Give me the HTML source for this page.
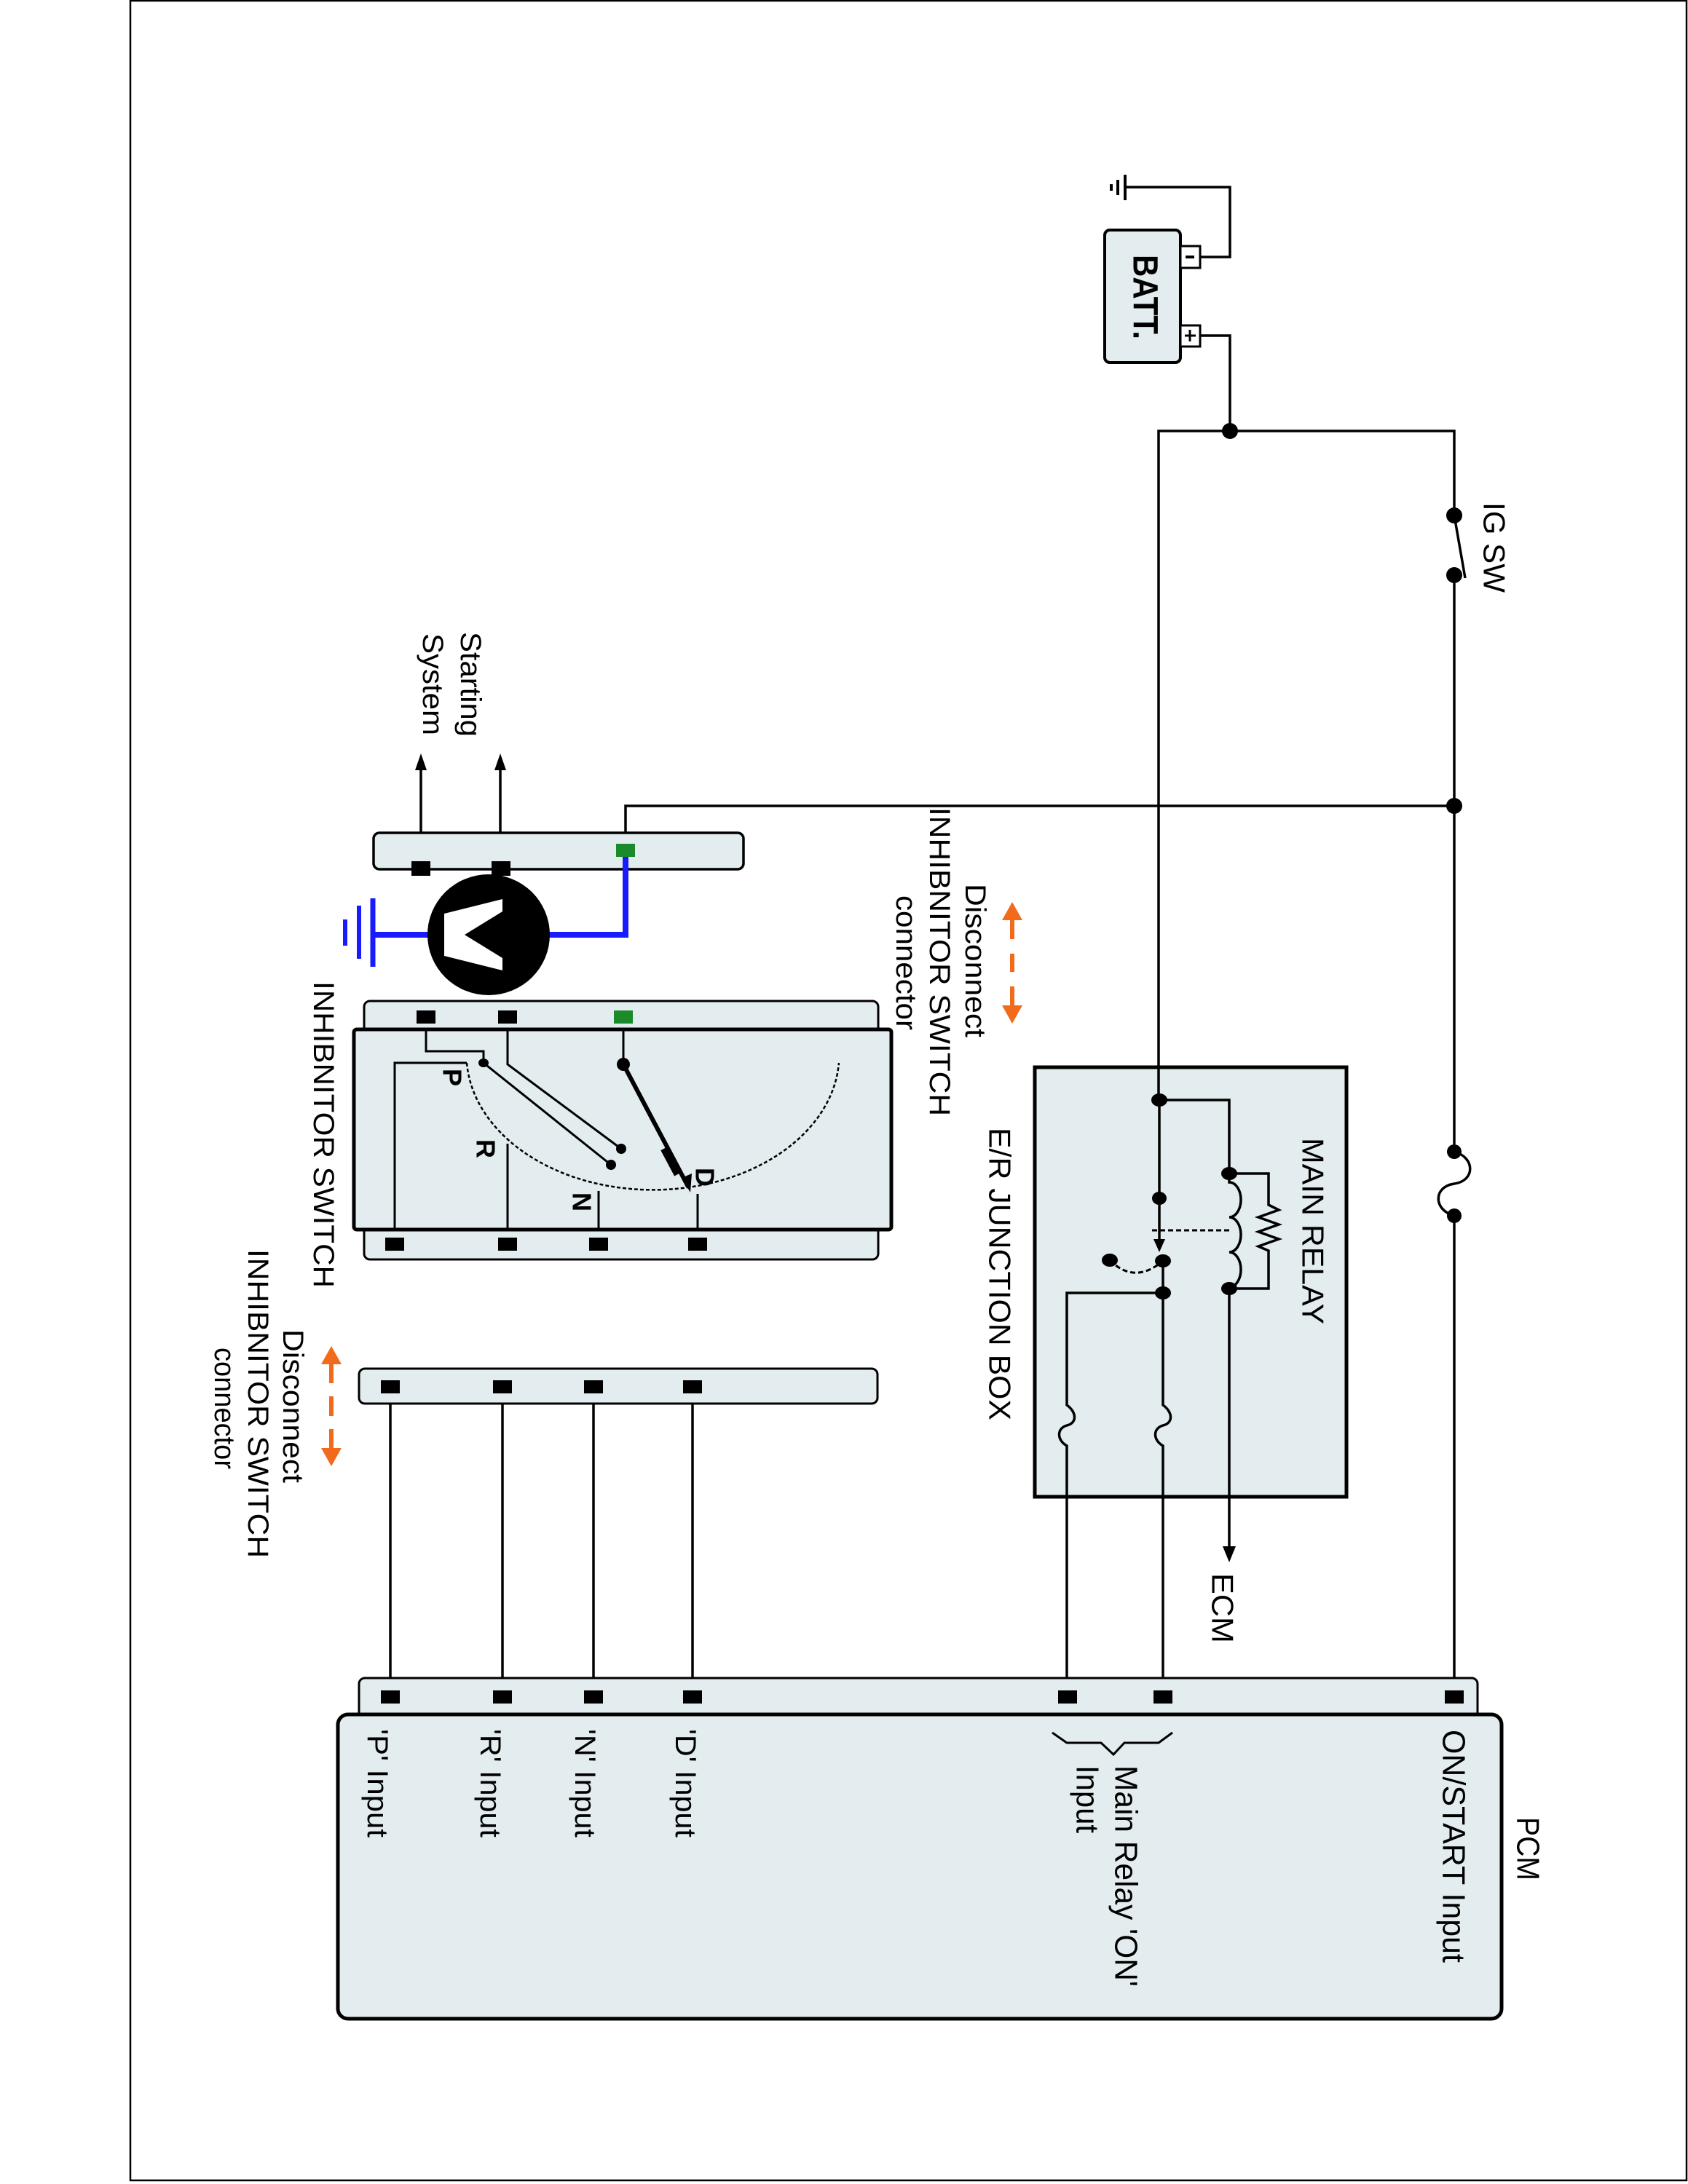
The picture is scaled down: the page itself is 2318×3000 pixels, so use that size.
<!DOCTYPE html>
<html><head><meta charset="utf-8"><style>
html,body{margin:0;padding:0;background:#fff;}
svg{display:block;}
text{font-family:"Liberation Sans",sans-serif;fill:#000;}
</style></head><body>
<svg width="2318" height="3000" viewBox="0 0 2318 3000" xmlns="http://www.w3.org/2000/svg">
<rect x="179" y="1" width="2137" height="2994" fill="none" stroke="#000" stroke-width="2.5"/>

<g fill="none" stroke="#000" stroke-width="3.5" stroke-linejoin="miter">
<!-- battery wiring -->
<path d="M1649,461 H1689 V592"/>
<path d="M1649,353 H1689 V257 H1545"/>
<path d="M1591,1511 V592 H1997 V708"/>
<path d="M1997,708 L2012,794"/>
<path d="M1997,790 V1582"/>
<path d="M1997,1582 C2026,1590 2026,1622 1997,1626 C1968,1630 1968,1662 1997,1670"/>
<path d="M1997,1670 V2331"/>
<path d="M1997,1107 H859 V1159"/>
<!-- relay -->
<path d="M1592,1511 H1688 V1612"/>
<path d="M1688,1612 V1624 a16,24 0 0 1 0,48 a16,24 0 0 1 0,48 a16,24 0 0 1 0,48 V1770"/>
<path d="M1688,1612 H1742 V1655 l14,7 l-28,10 l28,10 l-28,10 l28,10 l-28,10 l14,6 V1770 H1688"/>
<path d="M1688,1770 V2128"/>
<path d="M1592,1511 V1706"/>
<path d="M1597,1732 V1930 C1611,1940 1611,1955 1597,1958 C1583,1962 1583,1978 1597,1986 V2331"/>
<path d="M1597,1776 H1465 V1930 C1479,1940 1479,1955 1465,1958 C1451,1962 1451,1978 1465,1986 V2331"/>
<!-- starting system -->
<path d="M578,1193 V1050"/><path d="M687,1193 V1050"/>
<!-- connector to PCM wires -->
<path d="M536,1905 V2331"/><path d="M690,1905 V2331"/><path d="M815,1905 V2331"/><path d="M951,1905 V2331"/>
</g>
<g stroke="#000" stroke-width="3" fill="none" stroke-dasharray="7,4">
<path d="M1582,1690 H1688"/>
<path d="M1524,1731 Q1558,1765 1597,1732"/>
</g>
<!-- ground -->
<g stroke="#000" stroke-width="4">
<line x1="1545" y1="240" x2="1545" y2="275"/>
<line x1="1535" y1="247" x2="1535" y2="268"/>
<line x1="1526" y1="253" x2="1526" y2="262"/>
</g>
<!-- arrowheads -->
<g fill="#000">
<polygon points="1688,2146 1679,2124 1697,2124"/>
<polygon points="1592,1720 1584,1702 1600,1702"/>
<polygon points="578,1035 570,1058 586,1058"/>
<polygon points="687,1035 679,1058 695,1058"/>
</g>

<!-- battery -->
<rect x="1517" y="316" width="104" height="182" rx="7" fill="#e3ecee" stroke="#000" stroke-width="4"/>
<rect x="1621" y="338" width="27" height="30" fill="#fff" stroke="#000" stroke-width="3"/>
<rect x="1621" y="447" width="27" height="29" fill="#fff" stroke="#000" stroke-width="3"/>
<line x1="1628" y1="353" x2="1640" y2="353" stroke="#000" stroke-width="4"/>
<line x1="1627" y1="461" x2="1642" y2="461" stroke="#000" stroke-width="3"/>
<line x1="1634" y1="453" x2="1634" y2="469" stroke="#000" stroke-width="3"/>
<text transform="translate(1572,350) rotate(90)" font-size="48" font-weight="bold" dominant-baseline="central" textLength="116" lengthAdjust="spacingAndGlyphs">BATT.</text>

<!-- junction box -->
<rect x="1421" y="1466" width="428" height="590" fill="#e3ecee" stroke="#000" stroke-width="5"/>
<path d="M1591,1466 V1511" stroke="#000" stroke-width="3.5"/>
<path d="M1688,1770 V2056" stroke="#000" stroke-width="3.5"/>
<g fill="none" stroke="#000" stroke-width="3.5">
<path d="M1592,1511 H1688 V1612"/>
<path d="M1688,1612 V1624 a16,24 0 0 1 0,48 a16,24 0 0 1 0,48 a16,24 0 0 1 0,48 V1770"/>
<path d="M1688,1612 H1742 V1655 l14,7 l-28,10 l28,10 l-28,10 l28,10 l-28,10 l14,6 V1770 H1688"/>
<path d="M1592,1511 V1706"/>
<path d="M1597,1732 V1930 C1611,1940 1611,1955 1597,1958 C1583,1962 1583,1978 1597,1986 V2056"/>
<path d="M1597,1776 H1465 V1930 C1479,1940 1479,1955 1465,1958 C1451,1962 1451,1978 1465,1986 V2056"/>
</g>
<g stroke="#000" stroke-width="3" fill="none" stroke-dasharray="7,4">
<path d="M1582,1690 H1688"/>
<path d="M1524,1731 Q1558,1765 1597,1732"/>
</g>
<polygon points="1592,1720 1584,1702 1600,1702" fill="#000"/>
<text transform="translate(1803,1563) rotate(90)" font-size="42" dominant-baseline="central" textLength="256" lengthAdjust="spacingAndGlyphs">MAIN RELAY</text>
<text transform="translate(1373,1549) rotate(90)" font-size="42" dominant-baseline="central" textLength="402" lengthAdjust="spacingAndGlyphs">E/R JUNCTION BOX</text>

<!-- dots -->
<g fill="#000">
<circle cx="1689" cy="592" r="11"/>
<circle cx="1997" cy="708" r="11"/><circle cx="1997" cy="790" r="11"/>
<circle cx="1997" cy="1107" r="11"/>
<circle cx="1997" cy="1582" r="10"/><circle cx="1997" cy="1670" r="10"/>
<ellipse cx="1592" cy="1511" rx="11" ry="9"/>
<ellipse cx="1592" cy="1646" rx="10" ry="9"/>
<ellipse cx="1688" cy="1612" rx="11" ry="9"/>
<ellipse cx="1688" cy="1770" rx="11" ry="9"/>
<ellipse cx="1597" cy="1732" rx="11" ry="9"/>
<ellipse cx="1524" cy="1731" rx="11" ry="9"/>
<ellipse cx="1597" cy="1776" rx="11" ry="9"/>
</g>

<text transform="translate(2052,690) rotate(90)" font-size="42" dominant-baseline="central" textLength="124" lengthAdjust="spacingAndGlyphs">IG SW</text>
<text transform="translate(1679,2161) rotate(90)" font-size="42" dominant-baseline="central" textLength="96" lengthAdjust="spacingAndGlyphs">ECM</text>

<!-- upper connector (harness side) -->
<rect x="513" y="1144" width="508" height="50" rx="8" fill="#e3ecee" stroke="#000" stroke-width="3.5"/>
<rect x="565" y="1183" width="26" height="20" fill="#000"/>
<rect x="675" y="1183" width="26" height="20" fill="#000"/>
<rect x="846" y="1159" width="26" height="18" fill="#1a8a2a"/>
<!-- voltmeter -->
<path d="M859,1177 V1284 H740" fill="none" stroke="#1a1aff" stroke-width="8"/>
<path d="M600,1284 H512" fill="none" stroke="#1a1aff" stroke-width="8"/>
<line x1="512" y1="1234" x2="512" y2="1328" stroke="#1a1aff" stroke-width="7"/>
<line x1="493" y1="1244" x2="493" y2="1317" stroke="#1a1aff" stroke-width="6"/>
<line x1="474" y1="1263" x2="474" y2="1299" stroke="#1a1aff" stroke-width="6"/>
<ellipse cx="671" cy="1284" rx="84" ry="83" fill="#000"/>
<polygon points="610,1255 690,1235 690,1252 638,1284 690,1316 690,1333 610,1313" fill="#fff"/>

<!-- orange arrows -->
<g stroke="#f26a1b" fill="#f26a1b">
<polygon points="1390,1239 1376,1264 1404,1264" stroke="none"/>
<line x1="1390" y1="1262" x2="1390" y2="1290" stroke-width="6"/>
<line x1="1390" y1="1310" x2="1390" y2="1335" stroke-width="6"/>
<line x1="1390" y1="1355" x2="1390" y2="1383" stroke-width="6"/>
<polygon points="1390,1406 1376,1381 1404,1381" stroke="none"/>
<polygon points="455,1849 441,1874 469,1874" stroke="none"/>
<line x1="455" y1="1872" x2="455" y2="1900" stroke-width="6"/>
<line x1="455" y1="1918" x2="455" y2="1945" stroke-width="6"/>
<line x1="455" y1="1963" x2="455" y2="1991" stroke-width="6"/>
<polygon points="455,2014 441,1989 469,1989" stroke="none"/>
</g>
<text transform="translate(1339,1214) rotate(90)" font-size="40" dominant-baseline="central" textLength="211" lengthAdjust="spacingAndGlyphs">Disconnect</text>
<text transform="translate(1290,1109) rotate(90)" font-size="40" dominant-baseline="central" textLength="424" lengthAdjust="spacingAndGlyphs">INHIBNITOR SWITCH</text>
<text transform="translate(1244,1230) rotate(90)" font-size="40" dominant-baseline="central" textLength="185" lengthAdjust="spacingAndGlyphs">connector</text>

<text transform="translate(402,1826) rotate(90)" font-size="40" dominant-baseline="central" textLength="211" lengthAdjust="spacingAndGlyphs">Disconnect</text>
<text transform="translate(354,1716) rotate(90)" font-size="40" dominant-baseline="central" textLength="424" lengthAdjust="spacingAndGlyphs">INHIBNITOR SWITCH</text>
<text transform="translate(308,1851) rotate(90)" font-size="40" dominant-baseline="central" textLength="167" lengthAdjust="spacingAndGlyphs">connector</text>

<text transform="translate(646,868) rotate(90)" font-size="40" dominant-baseline="central" textLength="144" lengthAdjust="spacingAndGlyphs">Starting</text>
<text transform="translate(594,870) rotate(90)" font-size="40" dominant-baseline="central" textLength="140" lengthAdjust="spacingAndGlyphs">System</text>

<!-- inhibitor switch -->
<rect x="500" y="1375" width="706" height="60" rx="8" fill="#e3ecee" stroke="#000" stroke-width="3"/>
<rect x="500" y="1670" width="706" height="60" rx="8" fill="#e3ecee" stroke="#000" stroke-width="3"/>
<rect x="486" y="1414" width="738" height="275" rx="4" fill="#e3ecee" stroke="#000" stroke-width="5"/>
<rect x="572" y="1388" width="26" height="18" fill="#000"/>
<rect x="684" y="1388" width="26" height="18" fill="#000"/>
<rect x="843" y="1388" width="26" height="18" fill="#1a8a2a"/>
<rect x="529" y="1700" width="26" height="18" fill="#000"/>
<rect x="684" y="1700" width="26" height="18" fill="#000"/>
<rect x="809" y="1700" width="26" height="18" fill="#000"/>
<rect x="945" y="1700" width="26" height="18" fill="#000"/>
<g fill="none" stroke="#000" stroke-width="3">
<path d="M585,1414 V1444 H664 V1460 L839,1600"/>
<path d="M697,1414 V1462 L853,1578"/>
<path d="M542,1689 V1460 H641"/>
<path d="M697,1689 V1571"/>
<path d="M822,1689 V1636"/>
<path d="M958,1689 V1640"/>
<path d="M856,1414 V1462"/>
</g>
<path d="M856,1462 L945,1630" stroke="#000" stroke-width="6"/>
<polygon points="948,1638 936,1618 950,1612" fill="#000"/>
<rect x="916" y="1575" width="12" height="40" fill="#000" transform="rotate(-28 922 1595)"/>
<path d="M641,1460 A256,186 0 0 0 1152,1460" fill="none" stroke="#000" stroke-width="2.5" stroke-dasharray="5,3"/>
<g fill="#000">
<ellipse cx="664" cy="1460" rx="7" ry="6"/>
<ellipse cx="839" cy="1600" rx="7" ry="7"/>
<ellipse cx="853" cy="1578" rx="7" ry="7"/>
<ellipse cx="856" cy="1462" rx="9" ry="9"/>
</g>
<text transform="translate(621,1468) rotate(90)" font-size="36" font-weight="bold" dominant-baseline="central">P</text>
<text transform="translate(667,1565) rotate(90)" font-size="36" font-weight="bold" dominant-baseline="central">R</text>
<text transform="translate(799,1638) rotate(90)" font-size="36" font-weight="bold" dominant-baseline="central">N</text>
<text transform="translate(968,1604) rotate(90)" font-size="36" font-weight="bold" dominant-baseline="central">D</text>
<text transform="translate(444,1348) rotate(90)" font-size="40" dominant-baseline="central" textLength="421" lengthAdjust="spacingAndGlyphs">INHIBNITOR SWITCH</text>

<!-- lower connector -->
<rect x="493" y="1880" width="712" height="48" rx="8" fill="#e3ecee" stroke="#000" stroke-width="3"/>
<rect x="523" y="1896" width="26" height="18" fill="#000"/>
<rect x="677" y="1896" width="26" height="18" fill="#000"/>
<rect x="802" y="1896" width="26" height="18" fill="#000"/>
<rect x="938" y="1896" width="26" height="18" fill="#000"/>

<!-- PCM -->
<rect x="493" y="2305" width="1536" height="60" rx="8" fill="#e3ecee" stroke="#000" stroke-width="3"/>
<rect x="464" y="2355" width="1598" height="418" rx="14" fill="#e3ecee" stroke="#000" stroke-width="5"/>
<g fill="#000">
<rect x="523" y="2322" width="26" height="18"/>
<rect x="677" y="2322" width="26" height="18"/>
<rect x="802" y="2322" width="26" height="18"/>
<rect x="938" y="2322" width="26" height="18"/>
<rect x="1453" y="2322" width="26" height="18"/>
<rect x="1584" y="2322" width="26" height="18"/>
<rect x="1984" y="2322" width="26" height="18"/>
</g>
<path d="M1445,2380 L1465,2394 H1512 L1529,2410 L1544,2394 H1591 L1610,2380" fill="none" stroke="#000" stroke-width="3"/>
<text transform="translate(2098,2496) rotate(90)" font-size="44" dominant-baseline="central" textLength="87" lengthAdjust="spacingAndGlyphs">PCM</text>
<text transform="translate(1996,2376) rotate(90)" font-size="44" dominant-baseline="central" textLength="320" lengthAdjust="spacingAndGlyphs">ON/START Input</text>
<text transform="translate(1546,2425) rotate(90)" font-size="44" dominant-baseline="central" textLength="304" lengthAdjust="spacingAndGlyphs">Main Relay 'ON'</text>
<text transform="translate(1493,2425) rotate(90)" font-size="44" dominant-baseline="central" textLength="93" lengthAdjust="spacingAndGlyphs">Input</text>
<text transform="translate(941,2375) rotate(90)" font-size="40" dominant-baseline="central" textLength="149" lengthAdjust="spacingAndGlyphs">'D' Input</text>
<text transform="translate(803,2375) rotate(90)" font-size="40" dominant-baseline="central" textLength="149" lengthAdjust="spacingAndGlyphs">'N' Input</text>
<text transform="translate(673,2375) rotate(90)" font-size="40" dominant-baseline="central" textLength="149" lengthAdjust="spacingAndGlyphs">'R' Input</text>
<text transform="translate(518,2375) rotate(90)" font-size="40" dominant-baseline="central" textLength="149" lengthAdjust="spacingAndGlyphs">'P' Input</text>
</svg>
</body></html>
